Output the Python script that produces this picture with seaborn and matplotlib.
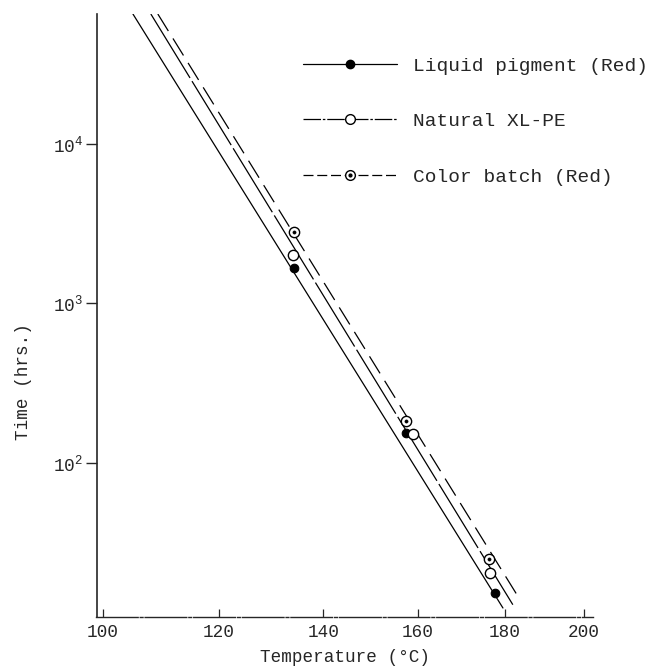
import seaborn as sns
import matplotlib.pyplot as plt
import numpy as np
from matplotlib.lines import Line2D
from matplotlib.legend_handler import HandlerTuple
from matplotlib.ticker import FixedLocator, NullLocator, FixedFormatter

# data (temperature in deg C, time in hours)
temps_liquid = [134.2, 157.3, 177.7]
times_liquid = [1656, 154, 15.3]
temps_natural = [134.0, 158.9, 176.5]
times_natural = [2000, 152, 20.4]
temps_color = [134.2, 157.3, 176.2]
times_color = [2786, 183, 25]

# end points of the drawn regression lines
line_liquid_t = [104.96, 179.6]
line_liquid_h = [65300, 12.3]
line_natural_t = [108.0, 182.0]
line_natural_h = [65300, 12.9]
line_color_t = [109.2, 183.0]
line_color_h = [65300, 14.9]

x_ticks = [100, 120, 140, 160, 180, 200]
y_ticks = [1e2, 1e3, 1e4]
y_tick_labels = [r"$10^{2}$", r"$10^{3}$", r"$10^{4}$"]

sns.set_style("ticks")
plt.rcParams["font.family"] = ["Liberation Mono", "DejaVu Sans"]
plt.rcParams["mathtext.fontset"] = "custom"
plt.rcParams["mathtext.rm"] = "Liberation Mono"
plt.rcParams["mathtext.it"] = "Liberation Mono"
plt.rcParams["mathtext.default"] = "regular"

fig = plt.figure(figsize=(6.52, 6.69), dpi=100)
ax = fig.add_axes([96.5 / 652, 1 - 617 / 669, (593 - 96.5) / 652, (617 - 14) / 669])


# Arrhenius type axis: reciprocal absolute temperature
def fwd(t):
    return -1000.0 / (np.asarray(t, dtype=float) + 273.15)


def inv(v):
    return -1000.0 / np.asarray(v, dtype=float) - 273.15


ax.set_xscale("function", functions=(fwd, inv))
ax.set_yscale("log")

lw = 0.9
ls_natural = (0, (60, 3))
ls_color = (0, (16, 7))
ax.plot(line_liquid_t, line_liquid_h, color="black", lw=lw, ls="-")
ax.plot(line_natural_t, line_natural_h, color="black", lw=lw, ls=ls_natural)
ax.plot(line_color_t, line_color_h, color="black", lw=lw, ls=ls_color)

sns.scatterplot(x=temps_liquid, y=times_liquid, ax=ax, color="black", marker="o",
                s=38, edgecolor="black", linewidth=0.8, zorder=5)
sns.scatterplot(x=temps_natural, y=times_natural, ax=ax, color="white", marker="o",
                s=55, edgecolor="black", linewidth=1.0, zorder=5)
sns.scatterplot(x=temps_color, y=times_color, ax=ax, color="white", marker="o",
                s=55, edgecolor="black", linewidth=1.0, zorder=5)
sns.scatterplot(x=temps_color, y=times_color, ax=ax, color="black", marker="o",
                s=5, edgecolor="black", linewidth=0.5, zorder=6)

ax.set_xlim(98.92, 202.45)
ax.set_ylim(10.8, 65300)

ax.xaxis.set_major_locator(FixedLocator(x_ticks))
ax.xaxis.set_minor_locator(NullLocator())
ax.set_xticklabels([str(v) for v in x_ticks])
ax.yaxis.set_major_locator(FixedLocator(y_ticks))
ax.yaxis.set_major_formatter(FixedFormatter(y_tick_labels))
ax.yaxis.set_minor_locator(NullLocator())

ax.tick_params(axis="x", direction="in", length=6, width=0.9, labelsize=12.7, pad=5)
ax.tick_params(axis="y", direction="out", length=8, width=1.0, labelsize=12.7, pad=2)

for side in ["top", "right"]:
    ax.spines[side].set_visible(False)
ax.spines["left"].set_linewidth(1.2)
ax.spines["bottom"].set_linewidth(1.0)
ax.spines["bottom"].set_linestyle((0, (30, 1.5, 2, 1.5)))

ax.set_xlabel("Temperature (°C)", fontsize=12.7, labelpad=6)
ax.set_ylabel("Time (hrs.)", fontsize=12.7)
ax.yaxis.set_label_coords(-0.13, 0.39)

h_liquid = Line2D([], [], color="black", lw=lw, ls="-", marker="o", ms=6,
                  markerfacecolor="black")
h_natural = Line2D([], [], color="black", lw=lw, ls=(0, (14, 1.5, 2, 1.5)), marker="o",
                   ms=7, markerfacecolor="white", markeredgewidth=1.0)
h_color_a = Line2D([], [], color="black", lw=lw, ls=(0, (8, 3)), marker="o", ms=7,
                   markerfacecolor="white", markeredgewidth=1.0)
h_color_b = Line2D([], [], ls="none", marker="o", ms=2, color="black")
labels = ["Liquid pigment (Red)", "Natural XL-PE", "Color batch (Red)"]
leg = ax.legend([h_liquid, h_natural, (h_color_a, h_color_b)], labels,
                handler_map={tuple: HandlerTuple(ndivide=1)},
                loc="upper left", frameon=False, fontsize=14,
                handlelength=4.84, handletextpad=0.82, labelspacing=1.95,
                borderpad=0, borderaxespad=0,
                bbox_to_anchor=(303 / 652, 1 - 57 / 669),
                bbox_transform=fig.transFigure)

fig.savefig("out.png", dpi=100, facecolor="white")
